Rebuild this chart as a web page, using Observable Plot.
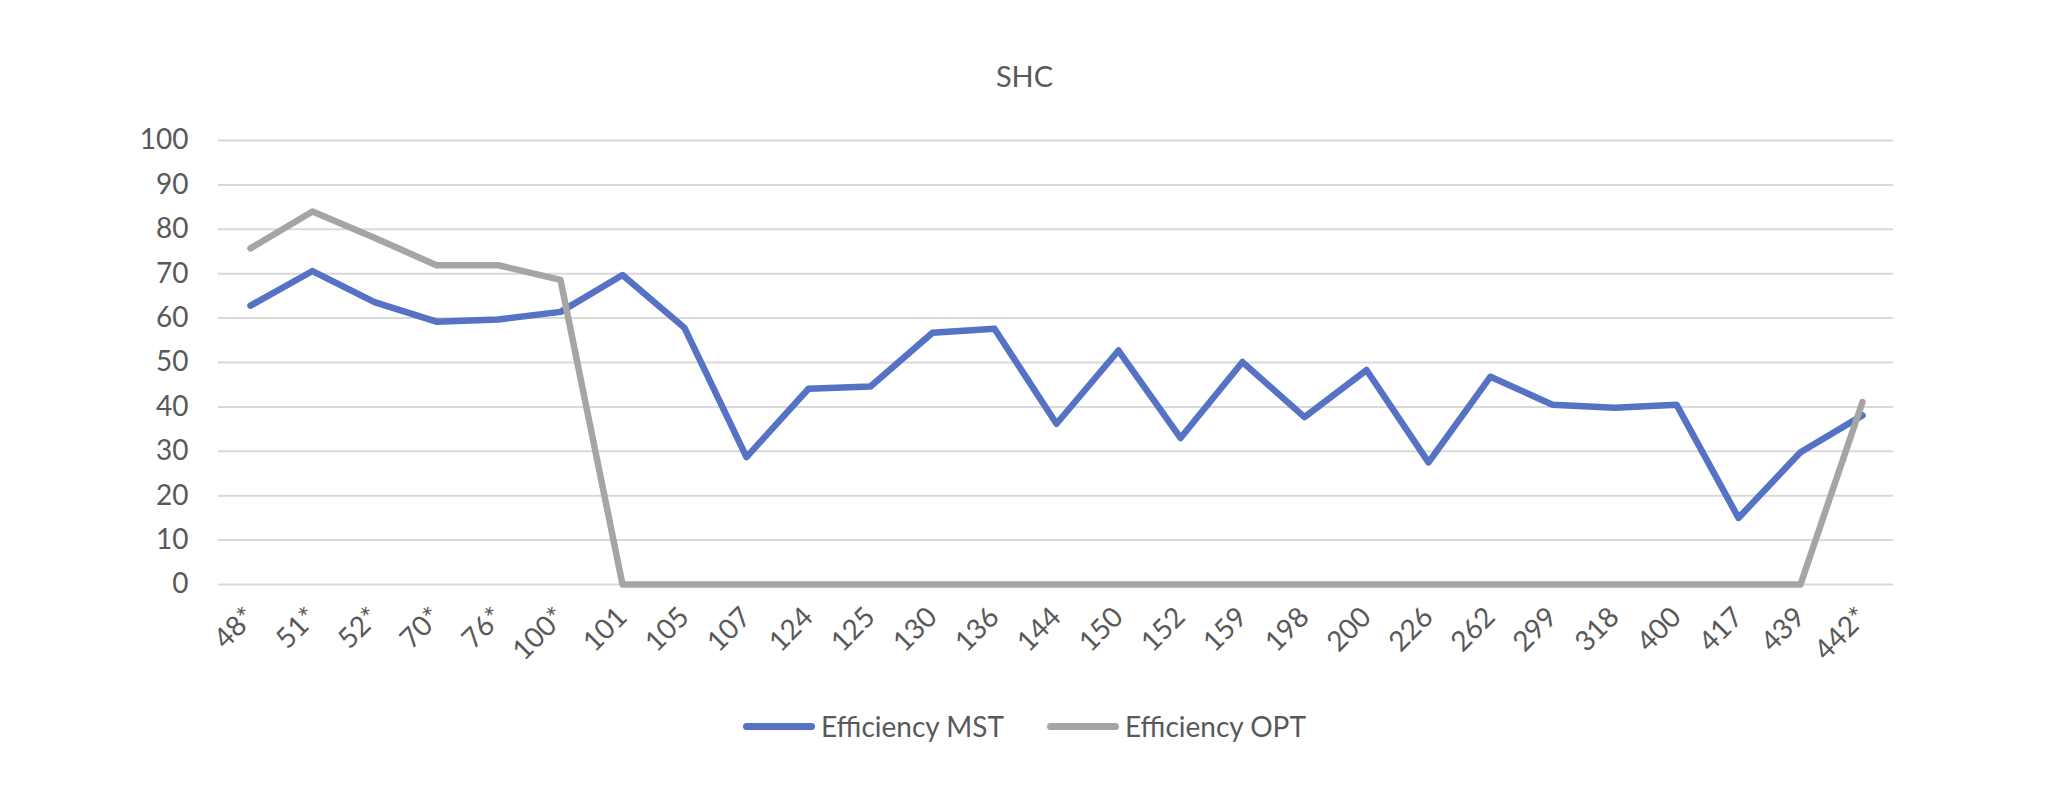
<!DOCTYPE html>
<html>
<head>
<meta charset="utf-8">
<script src="https://cdn.jsdelivr.net/npm/d3@7"></script>
<script src="https://cdn.jsdelivr.net/npm/@observablehq/plot@0.6"></script>
<style>
  html, body { margin: 0; padding: 0; background: #fff; }
  #wrap { position: relative; width: 2049px; height: 812px; font-family: Lato, "Open Sans", sans-serif; color: #595959; }
  #title { position: absolute; left: 0; width: 2049px; top: 56px; text-align: center; font-size: 29px; line-height: 40px; }
  #legend { position: absolute; left: 0; width: 2049px; top: 706px; display: flex; justify-content: center; align-items: center; font-size: 28px; line-height: 40px; }
  .item { display: flex; align-items: center; }
  .item + .item { margin-left: 43px; }
  .swatch { display: inline-block; width: 72px; height: 7px; border-radius: 4px; margin-right: 6px; }
  #chart { position: absolute; left: 0; top: 0; }
</style>
</head>
<body>
<div id="wrap">
  <div id="chart"></div>
  <div id="title">SHC</div>
  <div id="legend"></div>
</div>
<script>
const categories = ["48*","51*","52*","70*","76*","100*","101","105","107","124","125","130","136","144","150","152","159","198","200","226","262","299","318","400","417","439","442*"];
const efficiencyMST = [62.8,70.6,63.6,59.2,59.7,61.4,69.7,57.8,28.7,44.1,44.6,56.7,57.6,36.2,52.7,33.0,50.1,37.7,48.3,27.5,46.8,40.5,39.8,40.5,15.0,29.8,38.1];
const efficiencyOPT = [75.7,84.0,78.1,71.9,71.9,68.6,0,0,0,0,0,0,0,0,0,0,0,0,0,0,0,0,0,0,0,0,41.1];
const seriesNames = ["Efficiency MST","Efficiency OPT"];
const seriesColors = ["#5572C4","#A5A5A5"];
const yTicks = [0,10,20,30,40,50,60,70,80,90,100];

const rows = [];
[efficiencyMST, efficiencyOPT].forEach((vals, s) => {
  vals.forEach((v, i) => rows.push({series: seriesNames[s], cat: categories[i], value: v}));
});

const chart = Plot.plot({
  width: 2049,
  height: 812,
  marginLeft: 218,
  marginRight: 156,
  marginTop: 140,
  marginBottom: 228,
  style: { fontFamily: "Lato, 'Open Sans', sans-serif", fontSize: "28px", color: "#595959", background: "transparent" },
  x: { type: "point", domain: categories, padding: 0.5, tickSize: 0, tickPadding: 28, tickRotate: -45, label: null },
  y: { domain: [0, 100], ticks: yTicks, tickSize: 0, tickPadding: 30, label: null },
  color: { domain: seriesNames, range: seriesColors },
  marks: [
    Plot.ruleY(yTicks, { stroke: "#D9D9D9", strokeWidth: 2 }),
    Plot.line(rows, { x: "cat", y: "value", z: "series", stroke: "series", strokeWidth: 6.5, strokeLinejoin: "round", strokeLinecap: "round" })
  ]
});
document.getElementById("chart").appendChild(chart);

const legend = document.getElementById("legend");
seriesNames.forEach((name, i) => {
  const item = document.createElement("div");
  item.className = "item";
  const sw = document.createElement("span");
  sw.className = "swatch";
  sw.style.background = seriesColors[i];
  const tx = document.createElement("span");
  tx.textContent = name;
  item.appendChild(sw);
  item.appendChild(tx);
  legend.appendChild(item);
});
</script>
</body>
</html>
